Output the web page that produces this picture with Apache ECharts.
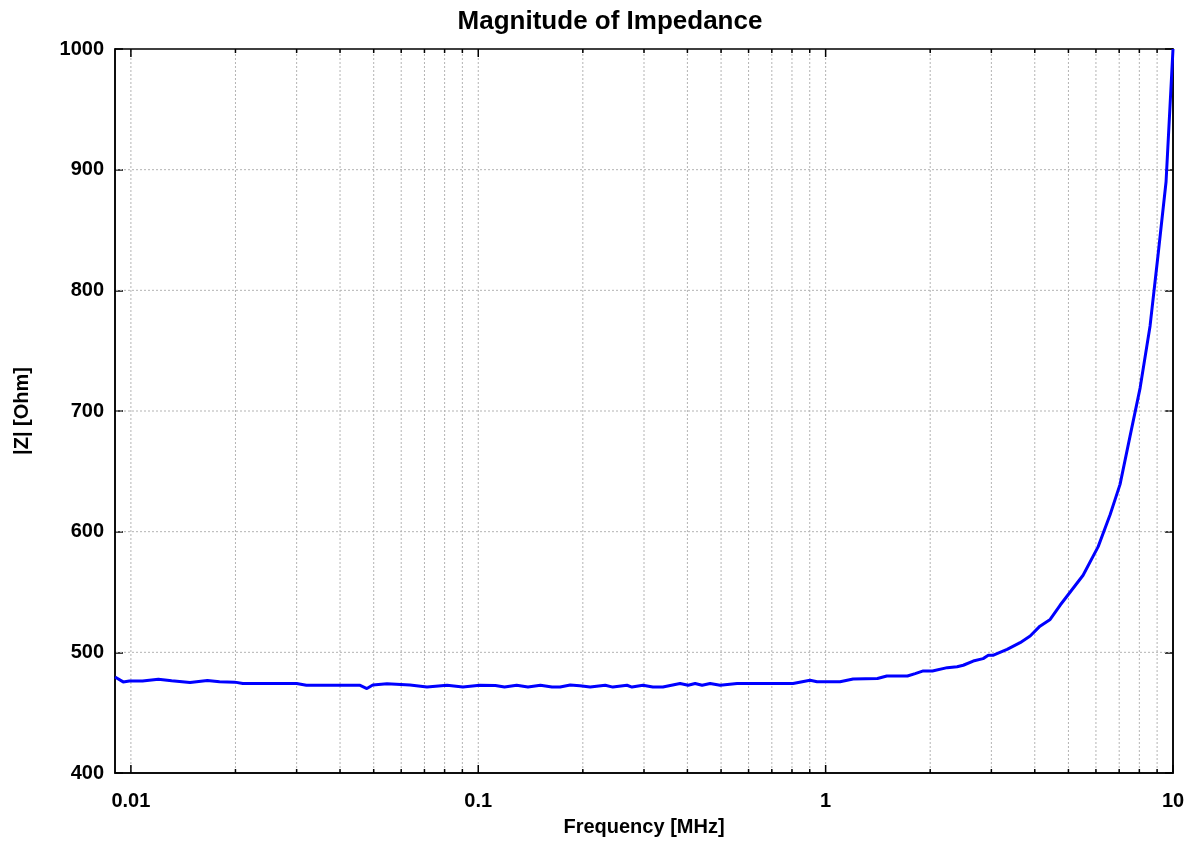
<!DOCTYPE html>
<html>
<head>
<meta charset="utf-8">
<script src="https://cdn.jsdelivr.net/npm/echarts@6/dist/echarts.min.js"></script>
<style>
html,body{margin:0;padding:0;background:#fff;}
#chart{width:1196px;height:842px;}
</style>
</head>
<body>
<div id="chart"></div>
<script>
// Frequency [MHz]
const freq = [
  0.009, 0.0095, 0.0099, 0.0108, 0.012, 0.0131, 0.0148, 0.0166, 0.018, 0.0199,
  0.021, 0.030, 0.032, 0.0457, 0.0478, 0.0497, 0.0546, 0.0636, 0.0712, 0.0813,
  0.0903, 0.101, 0.112, 0.119, 0.129, 0.139, 0.151, 0.163, 0.172, 0.184,
  0.196, 0.210, 0.232, 0.244, 0.268, 0.277, 0.298, 0.318, 0.340, 0.381,
  0.402, 0.421, 0.441, 0.465, 0.497, 0.556, 0.806, 0.902, 0.945, 1.10,
  1.20, 1.41, 1.50, 1.72, 1.81, 1.91, 2.03, 2.24, 2.39, 2.49,
  2.66, 2.84, 2.94, 3.03, 3.33, 3.63, 3.88, 4.14, 4.43, 4.73,
  5.51, 6.09, 6.59, 7.04, 7.52, 8.04, 8.59, 9.06, 9.55, 10
];
// |Z| [Ohm]
const impedance = [
  479.5, 475.5, 476.3, 476.3, 477.7, 476.5, 475.0, 476.7, 475.6, 475.3,
  474.1, 474.1, 472.7, 472.7, 470.0, 472.9, 474.0, 472.9, 471.3, 472.7,
  471.2, 472.7, 472.5, 471.2, 472.7, 471.2, 472.7, 471.2, 471.3, 473.0,
  472.3, 471.2, 472.7, 471.2, 472.7, 471.2, 472.7, 471.2, 471.2, 474.2,
  472.7, 474.2, 472.7, 474.2, 472.7, 474.1, 474.1, 476.8, 475.6, 475.6,
  477.9, 478.3, 480.4, 480.4, 482.4, 484.6, 484.6, 487.3, 488.1, 489.3,
  492.8, 494.8, 497.5, 497.5, 502.5, 508.0, 513.5, 521.7, 527.3, 539.0,
  563.9, 587.6, 614.0, 639.2, 679.0, 719.0, 770.5, 829.7, 890.0, 1000
];
// Axis ticks
const xTickValues = [0.01, 0.1, 1, 10];
const xTickLabels = ['0.01', '0.1', '1', '10'];
const xMinorMultipliers = [2, 3, 4, 5, 6, 7, 8, 9];
const yTickValues = [400, 500, 600, 700, 800, 900, 1000];
const yTickLabels = ['400', '500', '600', '700', '800', '900', '1000'];

const xMin = 0.009, xMax = 10;
const yMin = 400, yMax = 1000, yInterval = 100;

// vertical grid / tick positions for the log axis (major decades + minor 2..9)
const xGridData = [];
xTickValues.forEach(function (d) {
  xGridData.push([d, yMin, 1]);
  if (d < xMax) {
    xMinorMultipliers.forEach(function (m) { xGridData.push([d * m, yMin, 0]); });
  }
});
// horizontal grid positions (inner ticks only)
const yGridData = yTickValues.filter(function (v) { return v > yMin && v < yMax; })
  .map(function (v) { return [xMin, v]; });

const seriesData = freq.map(function (f, i) { return [f, impedance[i]]; });

const FONT = '"Liberation Sans", Arial, Helvetica, sans-serif';
const GRID_COLOR = '#b4b4b4';
const chart = echarts.init(document.getElementById('chart'), null, {renderer: 'canvas'});

chart.setOption({
  animation: false,
  backgroundColor: '#fff',
  title: {
    text: 'Magnitude of Impedance',
    left: 605,
    textAlign: 'center',
    top: 4,
    textStyle: {fontFamily: FONT, fontSize: 26, fontWeight: 'bold', color: '#000'}
  },
  grid: {
    left: 115, right: 23, top: 49, bottom: 66,
    show: true, borderColor: '#000', borderWidth: 1.5, backgroundColor: 'transparent'
  },
  xAxis: {
    type: 'log',
    logBase: 10,
    min: xMin,
    max: xMax,
    name: 'Frequency [MHz]',
    nameLocation: 'middle',
    nameGap: 44,
    nameTextStyle: {fontFamily: FONT, fontSize: 20, fontWeight: 'bold', color: '#000'},
    axisLine: {show: true, lineStyle: {color: '#000', width: 1.5}},
    axisTick: {show: false},
    splitLine: {show: false},
    minorTick: {show: false},
    minorSplitLine: {show: false},
    axisLabel: {
      margin: 18,
      fontFamily: FONT, fontSize: 20, fontWeight: 'bold', color: '#000',
      formatter: function (v) {
        for (let i = 0; i < xTickValues.length; i++) {
          if (Math.abs(Math.log10(v) - Math.log10(xTickValues[i])) < 1e-6) return xTickLabels[i];
        }
        return '';
      }
    }
  },
  yAxis: [{
    type: 'value',
    min: yMin, max: yMax, interval: yInterval,
    name: '|Z| [Ohm]',
    nameLocation: 'middle',
    nameGap: 83,
    nameTextStyle: {fontFamily: FONT, fontSize: 20, fontWeight: 'bold', color: '#000'},
    axisLine: {show: true, lineStyle: {color: '#000', width: 1.5}},
    axisTick: {show: true, inside: true, length: 8, lineStyle: {color: '#000', width: 1.5}},
    axisLabel: {
      margin: 11, fontFamily: FONT, fontSize: 20, fontWeight: 'bold', color: '#000',
      formatter: function (v) {
        const i = yTickValues.indexOf(Math.round(v));
        return i >= 0 ? yTickLabels[i] : String(v);
      }
    },
    splitLine: {show: false}
  }, {
    type: 'value',
    position: 'right',
    min: yMin, max: yMax, interval: yInterval,
    axisLine: {show: true, lineStyle: {color: '#000', width: 1.5}},
    axisTick: {show: true, inside: true, length: 8, lineStyle: {color: '#000', width: 1.5}},
    axisLabel: {show: false},
    splitLine: {show: false}
  }],
  series: [{
    type: 'custom',
    silent: true,
    z: 1,
    clip: false,
    encode: {x: 0, y: 1},
    data: xGridData,
    renderItem: function (params, api) {
      const f = api.value(0);
      const x = api.coord([f, yMin])[0];
      const cs = params.coordSys;
      const top = cs.y, bottom = cs.y + cs.height;
      const len = api.value(2) === 1 ? 8 : 4;
      const children = [];
      if (f < xMax) {
        children.push({type: 'line', shape: {x1: x, y1: top + 1, x2: x, y2: bottom - 1},
          style: {stroke: GRID_COLOR, lineWidth: 1, lineDash: [2, 2]}});
      }
      children.push({type: 'line', shape: {x1: x, y1: bottom, x2: x, y2: bottom - len},
        style: {stroke: '#000', lineWidth: 1.5}});
      children.push({type: 'line', shape: {x1: x, y1: top, x2: x, y2: top + len},
        style: {stroke: '#000', lineWidth: 1.5}});
      return {type: 'group', children: children};
    }
  }, {
    type: 'custom',
    silent: true,
    z: 1,
    clip: false,
    encode: {x: 0, y: 1},
    data: yGridData,
    renderItem: function (params, api) {
      const y = api.coord([xMin, api.value(1)])[1];
      const cs = params.coordSys;
      return {
        type: 'line',
        shape: {x1: cs.x + 1, y1: y, x2: cs.x + cs.width - 1, y2: y},
        style: {stroke: GRID_COLOR, lineWidth: 1, lineDash: [2, 2]}
      };
    }
  }, {
    type: 'line',
    z: 3,
    data: seriesData,
    showSymbol: false,
    symbol: 'none',
    clip: true,
    lineStyle: {color: '#0000ff', width: 3},
    itemStyle: {color: '#0000ff'}
  }]
});
</script>
</body>
</html>
